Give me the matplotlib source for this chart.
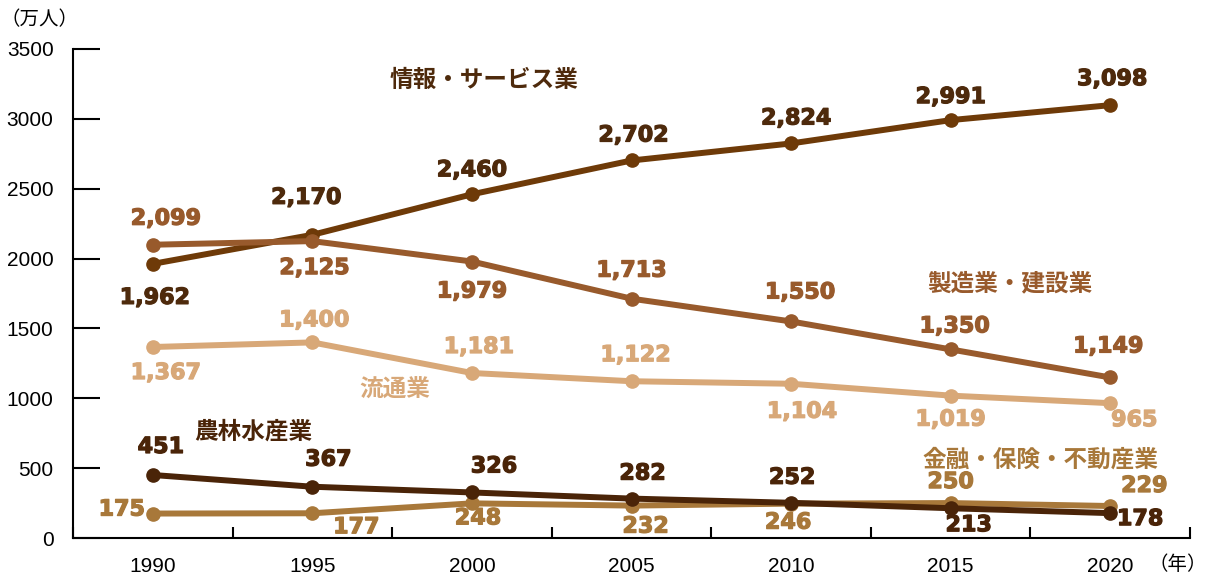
import matplotlib
matplotlib.use("Agg")
import matplotlib.pyplot as plt
import matplotlib.patheffects as pe

years = ["1990", "1995", "2000", "2005", "2010", "2015", "2020"]
info_service = [1962, 2170, 2460, 2702, 2824, 2991, 3098]
manufacturing = [2099, 2125, 1979, 1713, 1550, 1350, 1149]
distribution = [1367, 1400, 1181, 1122, 1104, 1019, 965]
agriculture = [451, 367, 326, 282, 252, 213, 178]
finance = [175, 177, 248, 232, 246, 250, 229]

series_names = ["情報・サービス業", "製造業・建設業", "流通業", "農林水産業", "金融・保険・不動産業"]
yticks = [0, 500, 1000, 1500, 2000, 2500, 3000, 3500]

line_colors = ["#6E3A08", "#985A2C", "#D8A878", "#4A2408", "#A8783A"]
text_colors = ["#4E2A0C", "#985A2C", "#D8A878", "#4A2408", "#A8783A"]

# label offsets in pixels (dx, dy)
offsets = [
    [(2, -34), (-6, 37), (0, 24), (2, 25), (5, 25), (0, 23), (2, 26)],
    [(13, 26), (2, -27), (0, -30), (0, 28), (9, 29), (4, 23), (-2, 31)],
    [(13, -26), (2, 22), (7, 26), (4, 26), (11, -28), (0, -24), (24, -17)],
    [(8, 28), (16, 27), (22, 26), (11, 25), (1, 25), (18, -17), (30, -6)],
    [(-31, 4), (44, -14), (6, -15), (14, -21), (-3, -19), (0, 21), (34, 20)],
]

fig = plt.figure(figsize=(12.07, 5.79), dpi=100)
ax = fig.add_axes([73/1207, 1-538/579, (1190-73)/1207, (538-49)/579])

x = list(range(len(years)))
data = [info_service, manufacturing, distribution, agriculture, finance]
order = [0, 1, 2, 4, 3]
for z, i in enumerate(order):
    ax.plot(x, data[i], color=line_colors[i], lw=4.3, marker="o", ms=9.5,
            solid_capstyle="round", zorder=3 + z)

for i, vals in enumerate(data):
    for j, v in enumerate(vals):
        ax.annotate(f"{v:,}", (j, v), xytext=offsets[i][j], textcoords="offset pixels",
                    ha="center", va="center", fontsize=16, fontweight="bold",
                    family="DejaVu Sans", color=text_colors[i], zorder=10,
                    path_effects=[pe.withStroke(linewidth=0.9, foreground=text_colors[i])])

cjk = ["Noto Sans CJK JP", "DejaVu Sans"]
name_pos = [(484, 80), (1010, 283), (395, 390), (253, 432), (1040, 460)]
for i, (px, py) in enumerate(name_pos):
    fig.text(px/1207, 1-py/579, series_names[i], ha="center", va="center",
             fontsize=17, fontweight="bold", family=cjk, color=text_colors[i])

ax.set_xlim(-0.5, len(years) - 0.5)
ax.set_ylim(0, 3500)
ax.set_yticks(yticks)
ax.set_yticklabels([str(t) for t in yticks], family="Liberation Sans", fontsize=15)
ax.tick_params(axis="y", direction="in", length=19.5, width=1.5, pad=14, color="black")

ax.set_xticks([k - 0.5 for k in range(len(years) + 1)])
ax.set_xticklabels([])
ax.tick_params(axis="x", which="major", direction="in", length=8, width=1.5)
ax.set_xticks(x, minor=True)
ax.set_xticklabels(years, minor=True, family="Liberation Sans", fontsize=15)
ax.tick_params(axis="x", which="minor", length=0, pad=14)

for s in ["top", "right"]:
    ax.spines[s].set_visible(False)
for s in ["left", "bottom"]:
    ax.spines[s].set_linewidth(1.5)

fig.text(40/1207, 1-20/579, "（万人）", ha="center", va="center", fontsize=14, family=cjk)
fig.text(1178/1207, 1-565/579, "（年）", ha="center", va="center", fontsize=14, family=cjk)

fig.savefig("out.png", dpi=100)
